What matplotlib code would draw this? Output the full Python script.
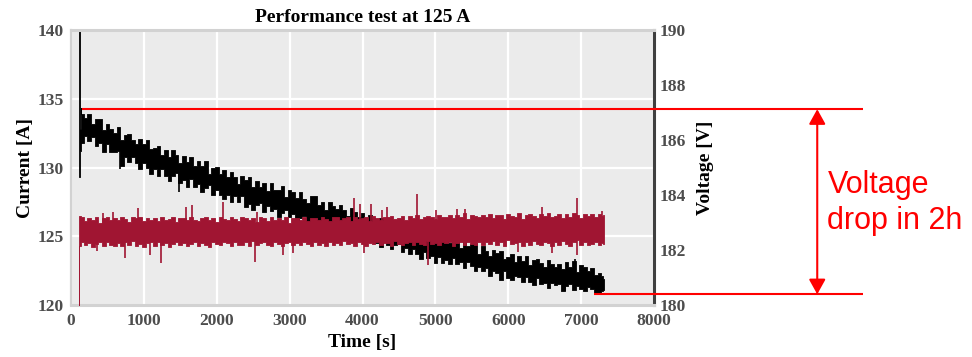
import matplotlib
matplotlib.use("Agg")
import matplotlib.pyplot as plt

# ---------------- data ----------------
title = "Performance test at 125 A"
x_label = "Time [s]"
i_label = "Current [A]"
v_label = "Voltage [V]"
x_ticks = [0, 1000, 2000, 3000, 4000, 5000, 6000, 7000, 8000]
i_ticks = [120, 125, 130, 135, 140]
v_ticks = [180, 182, 184, 186, 188, 190]

# common sampling times of the noisy band (s)
t_grid = [150, 200, 250, 300, 350, 400, 450, 500, 550, 600,
          650, 700, 750, 800, 850, 900, 950, 1000, 1050, 1100,
          1150, 1200, 1250, 1300, 1350, 1400, 1450, 1500, 1550, 1600,
          1650, 1700, 1750, 1800, 1850, 1900, 1950, 2000, 2050, 2100,
          2150, 2200, 2250, 2300, 2350, 2400, 2450, 2500, 2550, 2600,
          2650, 2700, 2750, 2800, 2850, 2900, 2950, 3000, 3050, 3100,
          3150, 3200, 3250, 3300, 3350, 3400, 3450, 3500, 3550, 3600,
          3650, 3700, 3750, 3800, 3850, 3900, 3950, 4000, 4050, 4100,
          4150, 4200, 4250, 4300, 4350, 4400, 4450, 4500, 4550, 4600,
          4650, 4700, 4750, 4800, 4850, 4900, 4950, 5000, 5050, 5100,
          5150, 5200, 5250, 5300, 5350, 5400, 5450, 5500, 5550, 5600,
          5650, 5700, 5750, 5800, 5850, 5900, 5950, 6000, 6050, 6100,
          6150, 6200, 6250, 6300, 6350, 6400, 6450, 6500, 6550, 6600,
          6650, 6700, 6750, 6800, 6850, 6900, 6950, 7000, 7050, 7100,
          7150, 7200, 7250, 7300]

# Voltage band (right axis, V)
v_start_t = [108, 112, 125, 137]
v_start_upper = [190.5, 190.5, 186.4, 187.15]
v_start_lower = [184.67, 184.67, 185.6, 186.0]
v_end_t = [7313]
v_end_upper = [180.95]
v_end_lower = [180.55]
v_upper = [186.95, 186.8, 186.95, 186.6, 186.75, 186.75, 186.35, 186.6, 186.4, 186.25,
           186.47, 186.0, 186.2, 186.23, 186.0, 185.85, 186.05, 185.85, 186.0, 185.68,
           185.7, 185.8, 185.45, 185.65, 185.4, 185.62, 185.45, 185.15, 185.43, 185.2,
           185.37, 185.05, 185.25, 185.05, 185.22, 184.75, 185.0, 185.03, 184.78, 184.9,
           184.65, 184.85, 184.65, 184.4, 184.7, 184.55, 184.64, 184.3, 184.5, 184.3,
           184.42, 184.15, 184.42, 184.2, 184.2, 184.32, 183.92, 184.2, 184.1, 183.9,
           184.1, 183.85, 183.72, 183.95, 183.95, 183.65, 183.75, 183.45, 183.75, 183.6,
           183.5, 183.65, 183.45, 183.25, 183.54, 183.4, 183.2, 183.35, 183.0, 183.28,
           183.15, 182.93, 183.18, 182.93, 183.05, 182.83, 183.03, 182.58, 182.85, 182.88,
           182.68, 182.81, 182.48, 182.68, 182.6, 182.43, 182.63, 182.43, 182.25, 182.53,
           182.44, 182.25, 182.34, 182.42, 182.09, 182.32, 182.14, 182.22, 182.27, 181.87,
           182.15, 181.95, 181.77, 182.0, 181.9, 181.95, 181.67, 181.75, 181.85, 181.55,
           181.77, 181.6, 181.77, 181.45, 181.62, 181.68, 181.52, 181.4, 181.62, 181.5,
           181.37, 181.5, 181.3, 181.55, 181.37, 181.6, 181.2, 181.45, 181.37, 181.25,
           181.35, 181.1, 181.15, 181.05]
v_lower = [185.9, 186.15, 185.95, 186.1, 185.8, 185.9, 185.55, 185.85, 185.55, 185.55,
           185.6, 185.05, 185.4, 185.2, 185.4, 185.15, 184.95, 185.15, 185.0, 184.75,
           184.95, 184.7, 184.95, 184.7, 184.5, 184.7, 184.8, 184.45, 184.55, 184.3,
           184.57, 184.3, 184.4, 184.1, 184.25, 184.35, 184.0, 184.2, 184.0, 183.85,
           184.0, 183.75, 183.95, 183.75, 183.95, 183.55, 183.67, 183.45, 183.65, 183.7,
           183.37, 183.6, 183.42, 183.5, 183.2, 183.35, 183.47, 183.2, 183.3, 183.05,
           183.15, 183.25, 182.92, 183.1, 182.95, 182.75, 183.0, 182.85, 182.72, 182.95,
           182.8, 182.55, 182.8, 182.55, 182.47, 182.65, 182.35, 182.65, 182.35, 182.4,
           182.44, 182.27, 182.12, 182.37, 182.19, 182.02, 182.17, 182.22, 181.94, 182.07,
           181.87, 182.02, 181.87, 181.67, 181.94, 181.72, 181.77, 181.52, 181.74, 181.52,
           181.65, 181.48, 181.7, 181.48, 181.55, 181.33, 181.55, 181.43, 181.23, 181.38,
           181.25, 181.35, 181.07, 181.25, 181.15, 180.9, 181.22, 181.0, 180.92, 181.05,
           181.02, 180.85, 181.02, 180.85, 180.72, 181.0, 180.77, 180.8, 180.62, 180.8,
           180.72, 180.75, 180.5, 180.7, 180.77, 180.55, 180.7, 180.6, 180.52, 180.65,
           180.6, 180.4, 180.43, 180.5]
v_spike_t = [672, 1480, 6778, 6915, 7230]
v_spike_lo = [184.95, 184.1, 180.5, 180.9, 180.43]
v_spike_hi = [185.8, 184.9, 181.2, 181.67, 181.0]

# Current band (left axis, A)
i_start_t = [110, 115]
i_start_upper = [125.3, 126.45]
i_start_lower = [120.0, 124.3]
i_end_t = [7313]
i_end_upper = [126.55]
i_end_lower = [124.45]
i_upper = [126.4, 126.1, 126.35, 126.2, 126.42, 126.0, 126.3, 126.38, 126.18, 126.35,
           126.15, 126.4, 126.25, 126.05, 126.4, 126.3, 126.42, 126.1, 126.35, 126.2,
           126.35, 126.1, 126.4, 126.2, 126.25, 126.42, 126.05, 126.35, 126.3, 126.15,
           126.4, 126.2, 126.1, 126.35, 126.4, 126.15, 126.3, 126.05, 126.38, 126.25,
           126.2, 126.4, 126.25, 126.1, 126.42, 126.3, 126.15, 126.35, 126.05, 126.38,
           126.3, 126.1, 126.4, 126.2, 126.35, 126.15, 126.4, 126.0, 126.3, 126.35,
           126.2, 126.38, 126.1, 126.35, 126.3, 126.15, 126.4, 126.25, 126.1, 126.4,
           126.38, 126.21, 126.33, 126.43, 126.13, 126.38, 126.23, 126.33, 126.43, 126.08,
           126.47, 126.32, 126.17, 126.42, 126.37, 126.47, 126.22, 126.32, 126.45, 126.17,
           126.47, 126.32, 126.52, 126.22, 126.42, 126.5, 126.37, 126.27, 126.52, 126.42,
           126.38, 126.53, 126.33, 126.58, 126.43, 126.68, 126.28, 126.53, 126.48, 126.38,
           126.58, 126.43, 126.63, 126.33, 126.53, 126.58, 126.28, 126.63, 126.48, 126.38,
           126.67, 126.25, 126.55, 126.63, 126.45, 126.35, 126.65, 126.5, 126.7, 126.43,
           126.5, 126.65, 126.35, 126.6, 126.4, 126.67, 126.55, 126.3, 126.63, 126.45,
           126.6, 126.4, 126.65, 126.5]
i_lower = [124.6, 124.35, 124.5, 124.25, 124.45, 124.6, 124.3, 124.55, 124.4, 124.3,
           124.5, 124.3, 124.55, 124.4, 124.65, 124.3, 124.45, 124.25, 124.5, 124.6,
           124.3, 124.55, 124.4, 124.5, 124.25, 124.45, 124.6, 124.35, 124.5, 124.3,
           124.45, 124.6, 124.3, 124.5, 124.4, 124.25, 124.55, 124.45, 124.35, 124.6,
           124.5, 124.3, 124.6, 124.4, 124.35, 124.55, 124.3, 124.65, 124.4, 124.5,
           124.55, 124.4, 124.3, 124.6, 124.45, 124.3, 124.5, 124.6, 124.35, 124.5,
           124.35, 124.55, 124.45, 124.3, 124.6, 124.4, 124.5, 124.3, 124.55, 124.35,
           124.52, 124.37, 124.62, 124.42, 124.52, 124.32, 124.57, 124.47, 124.32, 124.52,
           124.43, 124.58, 124.33, 124.53, 124.48, 124.28, 124.63, 124.43, 124.38, 124.53,
           124.55, 124.4, 124.6, 124.45, 124.35, 124.65, 124.45, 124.5, 124.35, 124.55,
           124.5, 124.55, 124.3, 124.5, 124.6, 124.4, 124.55, 124.45, 124.4, 124.55,
           124.35, 124.6, 124.45, 124.65, 124.4, 124.55, 124.3, 124.7, 124.45, 124.5,
           124.6, 124.3, 124.55, 124.4, 124.65, 124.45, 124.35, 124.6, 124.5, 124.3,
           124.55, 124.35, 124.65, 124.45, 124.3, 124.55, 124.7, 124.4, 124.55, 124.35,
           124.45, 124.6, 124.35, 124.5]
i_spike_t = [352, 440, 577, 741, 924, 1084, 1230, 1573, 1656, 2090, 2525, 2548, 2913, 3050,
             3888, 3966, 4025, 4116, 4263, 4331, 4743, 4903, 5004, 5292, 5406, 6137, 6467,
             6595, 6938, 7281]
i_spike_lo = [123.9, 125.5, 125.5, 123.4, 125.5, 123.64, 123.03, 125.5, 125.5, 125.5, 123.15, 125.5, 123.64, 123.75,
              125.5, 125.5, 123.75, 125.5, 125.5, 125.5, 125.5, 122.9, 125.5, 125.5, 125.5, 123.88, 125.5,
              123.76, 123.64, 125.5]
i_spike_hi = [125.5, 126.67, 126.8, 125.5, 127.03, 125.5, 125.5, 127.15, 127.27, 127.5, 125.5, 126.8, 125.5, 125.5,
              127.76, 127.35, 125.5, 127.35, 126.9, 127.15, 128.05, 125.5, 126.9, 127.0, 126.95, 125.5, 127.15,
              125.5, 127.76, 126.85]

# Annotation (voltage drop in 2 h)
drop_top_v = 187.12
drop_bottom_v = 180.39
drop_top_t0 = 147
drop_bottom_t0 = 7180
ann_t_end = 10870
arrow_t = 10240
ann_text = "Voltage\ndrop in 2h"
ann_text_t = 10380
ann_text_v = 183.7

# ---------------- styling ----------------
c_cur = "#a01532"
c_volt = "#000000"
bg = "#ebebeb"
tick_col = "#4d4d4d"
serif = ["Liberation Serif", "DejaVu Serif"]

fig = plt.figure(figsize=(9.72, 3.57), dpi=100)
ax_v = fig.add_axes([71 / 972, 52 / 357, 583 / 972, 275 / 357])
ax_v.set_facecolor(bg)
ax_i = ax_v.twinx()

# voltage on the background axes (right scale)
vt = v_start_t + t_grid + v_end_t
ax_v.fill_between(vt, v_start_lower + v_lower + v_end_lower,
                  v_start_upper + v_upper + v_end_upper, step="mid",
                  color=c_volt, lw=0.6, zorder=2)
ax_v.vlines(v_spike_t, v_spike_lo, v_spike_hi, color=c_volt, lw=1.2, zorder=2)
ax_v.set_xlim(0, 8000)
ax_v.set_ylim(180, 190)
ax_v.yaxis.tick_right()
ax_v.yaxis.set_label_position("right")

# current on top (left scale)
it = i_start_t + t_grid + i_end_t
ax_i.fill_between(it, i_start_lower + i_lower + i_end_lower,
                  i_start_upper + i_upper + i_end_upper, step="mid",
                  color=c_cur, lw=0.6, zorder=2)
ax_i.vlines(i_spike_t, i_spike_lo, i_spike_hi, color=c_cur, lw=1.2, zorder=2)
ax_i.set_ylim(120, 140)
ax_i.yaxis.tick_left()
ax_i.yaxis.set_label_position("left")

# grid (white) on background axes; y-grid at current ticks mapped to voltage scale
ax_v.set_xticks(x_ticks)
ax_v.set_yticks(v_ticks)
i0, i1 = ax_i.get_ylim()
v0, v1 = ax_v.get_ylim()
ax_v.set_yticks([v0 + (i - i0) * (v1 - v0) / (i1 - i0) for i in i_ticks[1:-1]], minor=True)
ax_v.grid(axis="x", which="major", color="white", lw=1.6)
ax_v.grid(axis="y", which="minor", color="white", lw=1.6)
ax_v.grid(axis="y", which="major", visible=False)
ax_v.set_axisbelow(True)
ax_i.set_yticks(i_ticks)

for a in (ax_v, ax_i):
    a.tick_params(which="both", length=0)
for lab in ax_v.get_xticklabels() + ax_v.get_yticklabels() + ax_i.get_yticklabels():
    lab.set_fontfamily(serif)
    lab.set_fontweight("bold")
    lab.set_fontsize(12.6)
    lab.set_color(tick_col)
ax_v.tick_params(axis="x", pad=6)
ax_v.tick_params(axis="y", pad=4)
ax_i.tick_params(axis="y", pad=5)

# spines
for s in ax_i.spines.values():
    s.set_visible(False)
ax_v.spines["top"].set_color("#d2d2d2")
ax_v.spines["top"].set_linewidth(2.2)
ax_v.spines["bottom"].set_color("#d2d2d2")
ax_v.spines["bottom"].set_linewidth(2.2)
ax_v.spines["left"].set_color("#d2d2d2")
ax_v.spines["left"].set_linewidth(1.6)
ax_v.spines["right"].set_color("#404040")
ax_v.spines["right"].set_linewidth(2.2)

lab_font = dict(family=serif, weight="bold", size=14, color="black")
ax_v.set_xlabel(x_label, labelpad=3, **lab_font)
ax_v.set_ylabel(v_label, labelpad=8, **lab_font)
ax_i.set_ylabel(i_label, labelpad=3, **lab_font)
ax_v.set_title(title, pad=6, family=serif, weight="bold", size=14, color="black")

# annotation lines / arrow
ax_v.plot([drop_top_t0, ann_t_end], [drop_top_v, drop_top_v], color="red", lw=1.5,
          clip_on=False, zorder=5, solid_capstyle="butt")
ax_v.plot([drop_bottom_t0, ann_t_end], [drop_bottom_v, drop_bottom_v], color="red", lw=1.5,
          clip_on=False, zorder=5, solid_capstyle="butt")
ax_v.annotate("", xy=(arrow_t, drop_top_v), xytext=(arrow_t, drop_bottom_v),
              arrowprops=dict(arrowstyle="<|-|>,head_length=0.45,head_width=0.25",
                              mutation_scale=20, color="red", lw=1.5,
                              shrinkA=0, shrinkB=0),
              annotation_clip=False, zorder=5)
ax_v.text(ann_text_t, ann_text_v, ann_text, color="red", fontsize=22,
          family=["Liberation Sans", "DejaVu Sans"], ha="left", va="center",
          linespacing=1.25, clip_on=False)

fig.savefig("out.png", dpi=100)
